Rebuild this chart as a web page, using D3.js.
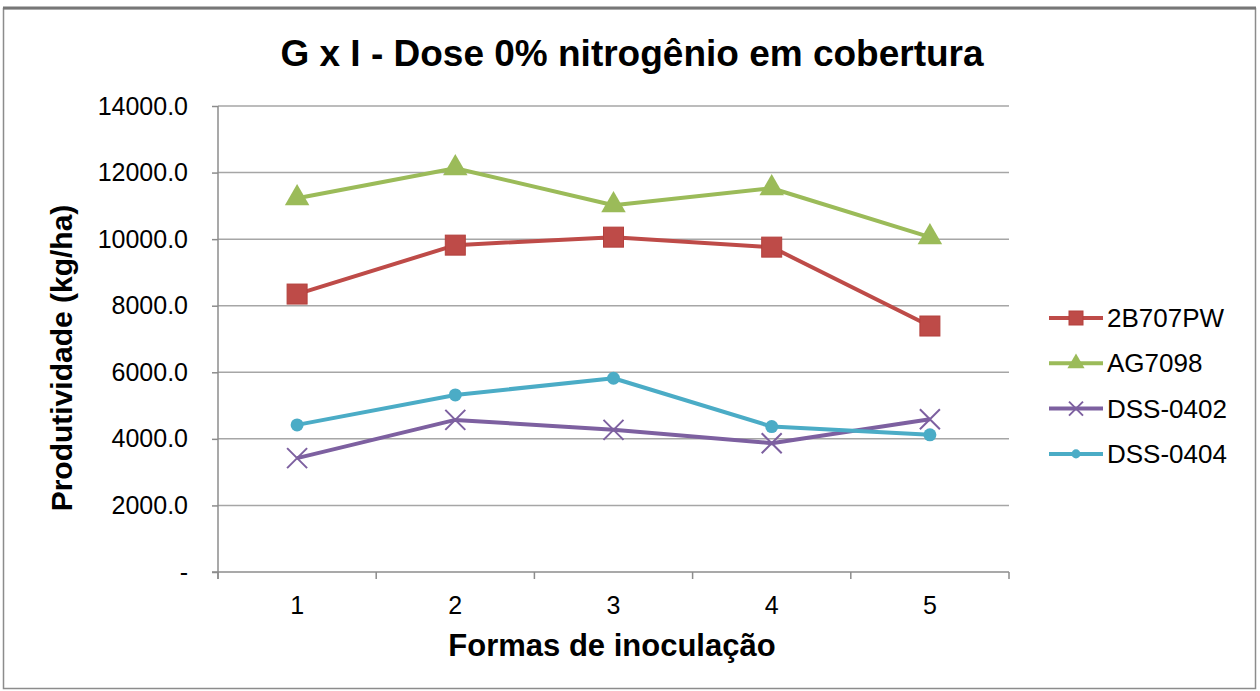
<!DOCTYPE html>
<html>
<head>
<meta charset="utf-8">
<script src="https://cdn.jsdelivr.net/npm/d3@7"></script>
<style>
  body { margin: 0; background: #fff; }
  text { font-family: "Liberation Sans", Arial, sans-serif; fill: #000; }
</style>
</head>
<body>
<div id="chart"></div>
<script>
const categories = ["1", "2", "3", "4", "5"];
const seriesNames = ["2B707PW", "AG7098", "DSS-0402", "DSS-0404"];
const vals2B707PW = [8350, 9820, 10060, 9760, 7390];
const valsAG7098 = [11230, 12130, 11020, 11530, 10060];
const valsDSS0402 = [3420, 4570, 4270, 3870, 4590];
const valsDSS0404 = [4420, 5320, 5820, 4370, 4120];
const yTicks = [0, 2000, 4000, 6000, 8000, 10000, 12000, 14000];

const series = [
  { name: seriesNames[0], values: vals2B707PW, color: "#be4b48", marker: "square" },
  { name: seriesNames[1], values: valsAG7098, color: "#9bbb59", marker: "triangle" },
  { name: seriesNames[2], values: valsDSS0402, color: "#7d60a0", marker: "cross" },
  { name: seriesNames[3], values: valsDSS0404, color: "#4bacc6", marker: "circle" }
];

const width = 1260, height = 691;
const margin = { top: 106, right: 251, bottom: 119, left: 218 };
const innerW = width - margin.left - margin.right;
const innerH = height - margin.top - margin.bottom;

const root = d3.select("#chart").append("svg")
  .attr("width", width).attr("height", height);

// outer frame
root.append("rect")
  .attr("x", 3.5).attr("y", 8.5).attr("width", 1252).attr("height", 680)
  .attr("fill", "none").attr("stroke", "#8c8c8c").attr("stroke-width", 1.5);
root.append("line")
  .attr("x1", 3).attr("x2", 1256).attr("y1", 8).attr("y2", 8)
  .attr("stroke", "#777").attr("stroke-width", 3);

root.append("text")
  .attr("x", 632).attr("y", 66)
  .attr("text-anchor", "middle")
  .style("font-size", "37px").style("font-weight", "bold")
  .text("G x I - Dose 0% nitrogênio em cobertura");

const svg = root.append("g").attr("transform", `translate(${margin.left},${margin.top})`);

const x = d3.scaleBand().domain(categories).range([0, innerW]);
const y = d3.scaleLinear().domain([0, 14000]).range([innerH, 0]);

// gridlines
svg.append("g").selectAll("line")
  .data(yTicks.filter(d => d > 0))
  .enter().append("line")
  .attr("x1", 0).attr("x2", innerW)
  .attr("y1", d => y(d)).attr("y2", d => y(d))
  .attr("stroke", "#a6a6a6").attr("stroke-width", 1.5);

// y axis
const yAxis = svg.append("g")
  .call(d3.axisLeft(y).tickValues(yTicks).tickSize(6).tickPadding(24)
    .tickFormat(d => d === 0 ? "-" : d3.format(".1f")(d)));
yAxis.selectAll("path, line").attr("stroke", "#8c8c8c").attr("stroke-width", 1.5);
yAxis.select(".domain").attr("d", `M0,0V${innerH + 7}`);
yAxis.selectAll("text").style("font-size", "25px").style("font-family", "Liberation Sans, Arial, sans-serif").attr("fill", "#000");

// x axis (ticks at category boundaries)
const xAxisG = svg.append("g").attr("transform", `translate(0,${innerH})`);
xAxisG.append("line").attr("x1", -6).attr("x2", innerW)
  .attr("stroke", "#8c8c8c").attr("stroke-width", 1.5);
xAxisG.selectAll(".bound")
  .data(categories.concat(["end"]))
  .enter().append("line")
  .attr("x1", (d, i) => i * x.bandwidth()).attr("x2", (d, i) => i * x.bandwidth())
  .attr("y1", 0).attr("y2", 7)
  .attr("stroke", "#8c8c8c").attr("stroke-width", 1.5);
xAxisG.selectAll(".lbl")
  .data(categories)
  .enter().append("text")
  .attr("x", d => x(d) + x.bandwidth() / 2)
  .attr("y", 42)
  .attr("text-anchor", "middle")
  .style("font-size", "25px")
  .text(d => d);

root.append("text")
  .attr("x", 612).attr("y", 656)
  .attr("text-anchor", "middle")
  .style("font-size", "31px").style("font-weight", "bold")
  .text("Formas de inoculação");

root.append("text")
  .attr("transform", "translate(72,358) rotate(-90)")
  .attr("text-anchor", "middle")
  .style("font-size", "30px").style("font-weight", "bold")
  .text("Produtividade (kg/ha)");

const cx = (d, i) => x(categories[i]) + x.bandwidth() / 2;
const line = d3.line().x(cx).y(d => y(d));

function drawMarker(g, type, color, k) {
  if (type === "square") {
    g.append("rect").attr("x", -10 * k).attr("y", -10 * k).attr("width", 20 * k).attr("height", 20 * k)
      .attr("fill", color).attr("stroke", "#b3403d").attr("stroke-width", 1);
  } else if (type === "triangle") {
    g.append("path").attr("d", d3.symbol(d3.symbolTriangle, 260 * k * k)())
      .attr("fill", color);
  } else if (type === "cross") {
    g.append("path").attr("d", `M${-10 * k},${-10 * k}L${10 * k},${10 * k}M${-10 * k},${10 * k}L${10 * k},${-10 * k}`)
      .attr("stroke", color).attr("stroke-width", 2).attr("fill", "none");
  } else {
    g.append("circle").attr("r", 6.5 * k).attr("fill", color);
  }
}

series.forEach(s => {
  svg.append("path")
    .datum(s.values)
    .attr("d", line)
    .attr("fill", "none")
    .attr("stroke", s.color)
    .attr("stroke-width", 4)
    .attr("stroke-linejoin", "round");
  s.values.forEach((v, i) => {
    const g = svg.append("g").attr("transform", `translate(${cx(v, i)},${y(v)})`);
    drawMarker(g, s.marker, s.color, 1);
  });
});

// legend
const legend = root.append("g").attr("transform", "translate(1049,318)");
series.forEach((s, i) => {
  const g = legend.append("g").attr("transform", `translate(0,${i * 45.3})`);
  g.append("line").attr("x1", 0).attr("x2", 54)
    .attr("stroke", s.color).attr("stroke-width", 4);
  const m = g.append("g").attr("transform", "translate(27,0)");
  drawMarker(m, s.marker, s.color, 0.7);
  g.append("text").attr("x", 58).attr("y", 9)
    .style("font-size", "26px")
    .text(s.name);
});
</script>
</body>
</html>
